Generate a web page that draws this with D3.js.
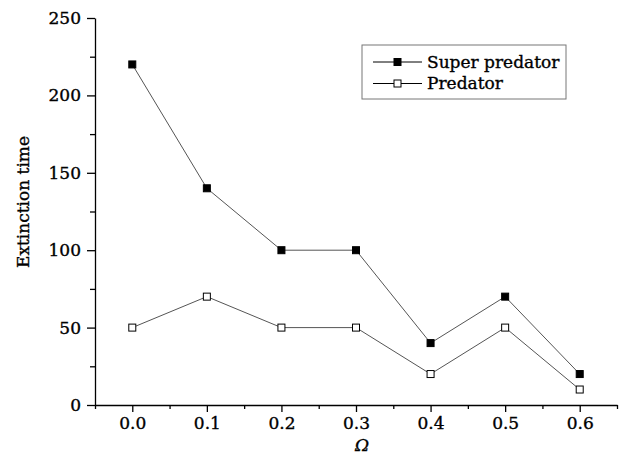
<!DOCTYPE html>
<html>
<head>
<meta charset="utf-8">
<script src="https://cdn.jsdelivr.net/npm/d3@7"></script>
<style>
  body { margin: 0; background: #fff; }
  text { font-family: "DejaVu Serif", serif; fill: #000; stroke: #000; stroke-width: 0.35px; }
</style>
</head>
<body>
<div id="chart"></div>
<script>
var omega = [0.0, 0.1, 0.2, 0.3, 0.4, 0.5, 0.6];
var superPredator = [220, 140, 100, 100, 40, 70, 20];
var predator = [50, 70, 50, 50, 20, 50, 10];
var xTicks = [0.0, 0.1, 0.2, 0.3, 0.4, 0.5, 0.6];
var yTicks = [0, 50, 100, 150, 200, 250];

var margin = {top: 18, right: 19, bottom: 51, left: 95},
    width = 636 - margin.left - margin.right,
    height = 456 - margin.top - margin.bottom;

var svg = d3.select("#chart").append("svg")
    .attr("width", 636)
    .attr("height", 456)
  .append("g")
    .attr("transform", "translate(" + margin.left + "," + margin.top + ")");

var x = d3.scaleLinear().domain([-0.05, 0.65]).range([0, width]);
var y = d3.scaleLinear().domain([0, 250]).range([height, 0]);

// minor ticks first, majors on top
svg.append("g")
    .attr("transform", "translate(0," + height + ")")
    .call(d3.axisBottom(x).tickValues(d3.range(-0.05, 0.66, 0.1)).tickSize(4).tickFormat(""))
    .call(function(g) { g.select(".domain").remove(); });
svg.append("g")
    .call(d3.axisLeft(y).tickValues(d3.range(25, 250, 50)).tickSize(5).tickFormat(""))
    .call(function(g) { g.select(".domain").remove(); });

var xAxis = svg.append("g")
    .attr("transform", "translate(0," + height + ")")
    .call(d3.axisBottom(x).tickValues(xTicks).tickSize(7).tickPadding(5).tickSizeOuter(0)
      .tickFormat(d3.format(".1f")));
var yAxis = svg.append("g")
    .call(d3.axisLeft(y).tickValues(yTicks).tickSize(8).tickPadding(6).tickSizeOuter(0));

[xAxis, yAxis].forEach(function(g) {
  g.selectAll("text").style("font-size", "17px").attr("fill", "#000");
  g.selectAll("line, path").attr("stroke", "#000").attr("stroke-width", 1.3);
});
svg.selectAll(".tick line").attr("stroke", "#000").attr("stroke-width", 1.3);

svg.append("text")
    .attr("transform", "translate(" + (23 - margin.left) + "," + (202 - margin.top) + ") rotate(-90)")
    .attr("text-anchor", "middle")
    .attr("dy", "0.35em")
    .style("font-size", "17px")
    .text("Extinction time");

svg.append("text")
    .attr("x", 362 - margin.left)
    .attr("y", 451 - margin.top)
    .attr("text-anchor", "middle")
    .style("font-size", "17px")
    .style("font-style", "italic")
    .text("Ω");

var line = d3.line()
    .x(function(d, i) { return x(omega[i]); })
    .y(function(d) { return y(d); });

var series = [
  {name: "Super predator", values: superPredator, fill: "#000"},
  {name: "Predator", values: predator, fill: "#fff"}
];

series.forEach(function(s) {
  svg.append("path")
      .datum(s.values)
      .attr("fill", "none")
      .attr("stroke", "#555")
      .attr("stroke-width", 1)
      .attr("d", line);
  svg.selectAll(null)
      .data(s.values)
    .enter().append("rect")
      .attr("x", function(d, i) { return x(omega[i]) - 3.5; })
      .attr("y", function(d) { return y(d) - 3.5; })
      .attr("width", 7)
      .attr("height", 7)
      .attr("fill", s.fill)
      .attr("stroke", "#000")
      .attr("stroke-width", 1);
});

// legend
var legend = svg.append("g")
    .attr("transform", "translate(" + (362 - margin.left) + "," + (45 - margin.top) + ")");
legend.append("rect")
    .attr("width", 204)
    .attr("height", 54)
    .attr("fill", "#fff")
    .attr("stroke", "#777")
    .attr("stroke-width", 1);

series.forEach(function(s, i) {
  var ly = 17 + i * 21.5;
  legend.append("line")
      .attr("x1", 11).attr("x2", 60)
      .attr("y1", ly).attr("y2", ly)
      .attr("stroke", "#000").attr("stroke-width", 1);
  legend.append("rect")
      .attr("x", 32).attr("y", ly - 3.5)
      .attr("width", 7).attr("height", 7)
      .attr("fill", s.fill).attr("stroke", "#000");
  legend.append("text")
      .attr("x", 65).attr("y", ly)
      .attr("dy", "0.35em")
      .style("font-size", "17px")
      .text(s.name);
});
</script>
</body>
</html>
